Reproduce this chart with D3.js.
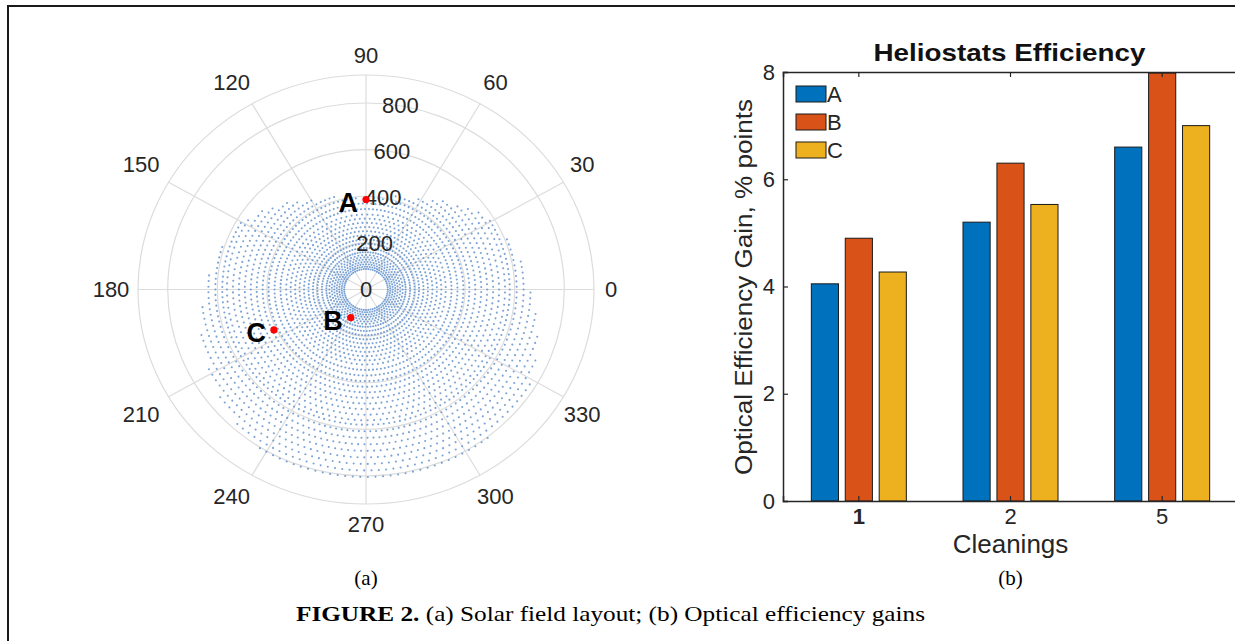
<!DOCTYPE html>
<html>
<head>
<meta charset="utf-8">
<script src="https://cdn.jsdelivr.net/npm/d3@7"></script>
<style>
  body { margin: 0; background: #fff; }
  svg { display: block; font-family: "Liberation Sans", Arial, sans-serif; }
</style>
</head>
<body>
<svg id="fig" width="1235" height="641"></svg>
<script>
// ---- data: (a) solar field layout ----
const thetaTicks = [0, 30, 60, 90, 120, 150, 180, 210, 240, 270, 300, 330];
const rTicks = [0, 200, 400, 600, 800];
const rMax = 920;
// field edge radius (m) read at each 30 deg
const edgeAngles = [0, 30, 60, 90, 120, 150, 180, 210, 240, 270, 300, 330, 360];
const edgeRadii = [665, 590, 445, 385, 445, 580, 650, 730, 810, 830, 815, 775, 665];
// radial stagger zones: first ring, last ring, ring spacing, heliostats per ring
const zoneStart = [88, 160, 345, 580];
const zoneEnd = [150, 335, 565, 840];
const zoneStep = [10, 18, 24, 28];
const zoneCount = [60, 95, 135, 165];
// marked heliostats
const markNames = ['A', 'B', 'C'];
const markTheta = [90, 243, 205];
const markR = [386, 135, 410];

// ---- data: (b) heliostats efficiency ----
const cleanings = ['1', '2', '5'];
const seriesNames = ['A', 'B', 'C'];
const gainA = [4.05, 5.2, 6.6];
const gainB = [4.9, 6.3, 7.98];
const gainC = [4.27, 5.53, 7.0];
const yTicks = [0, 2, 4, 6, 8];
const barColors = ['#0072BD', '#D95319', '#EDB120'];

const svg = d3.select('#fig');
const ink = '#262626';

// frame
svg.append('path')
    .attr('d', 'M8,641 V6 H1235')
    .attr('fill', 'none').attr('stroke', '#1a1a1a').attr('stroke-width', 2);

// ================= (a) polar =================
const cx = 366, cy = 289.5, rx = 228, ry = 214.5;
const px = d3.scaleLinear().domain([-rMax, rMax]).range([cx - rx, cx + rx]);
const py = d3.scaleLinear().domain([-rMax, rMax]).range([cy + ry, cy - ry]);
const rad = d => d * Math.PI / 180;
const polX = (t, r) => px(r * Math.cos(rad(t)));
const polY = (t, r) => py(r * Math.sin(rad(t)));

const polar = svg.append('g');
const gridColor = '#dcdcdc';

// grid circles
rTicks.slice(1).concat([rMax]).forEach(function(r) {
    polar.append('ellipse')
        .attr('cx', cx).attr('cy', cy)
        .attr('rx', px(r) - cx).attr('ry', cy - py(r))
        .attr('fill', 'none').attr('stroke', gridColor).attr('stroke-width', 1.2);
});
// spokes
thetaTicks.forEach(function(t) {
    polar.append('line')
        .attr('x1', cx).attr('y1', cy)
        .attr('x2', polX(t, rMax)).attr('y2', polY(t, rMax))
        .attr('stroke', gridColor).attr('stroke-width', 1.2);
});

// heliostat field
const edgeAt = d3.scaleLinear().domain(edgeAngles).range(edgeRadii);
const field = [];
zoneStart.forEach(function(r0, z) {
    let row = 0;
    for (let r = r0; r <= zoneEnd[z]; r += zoneStep[z], row++) {
        const n = zoneCount[z];
        const off = (row % 2) * 0.5;
        for (let k = 0; k < n; k++) {
            const t = (k + off) * 360 / n;
            if (r <= edgeAt(t)) field.push([t, r]);
        }
    }
});
polar.append('g').selectAll('circle')
    .data(field)
    .join('circle')
    .attr('cx', d => polX(d[0], d[1]))
    .attr('cy', d => polY(d[0], d[1]))
    .attr('r', 1.05)
    .attr('fill', '#5a8cca')
    .attr('fill-opacity', 0.8);

// theta labels, placed just outside the rim
thetaTicks.forEach(function(t) {
    const c = Math.cos(rad(t)), s = Math.sin(rad(t));
    const dir = Math.sign(Math.round(c * 100));
    polar.append('text')
        .attr('x', cx - 5 * Math.abs(c) + c * (rx + 22) + dir * Math.abs(s) * 8)
        .attr('y', cy - s * (ry + 20 + 20 * c * c))
        .attr('text-anchor', 'middle')
        .attr('dominant-baseline', 'central')
        .attr('font-size', 22).attr('fill', ink)
        .text(t);
});
// r labels along 80 deg
rTicks.forEach(function(r) {
    polar.append('text')
        .attr('x', polX(80, r)).attr('y', polY(80, r))
        .attr('text-anchor', 'middle')
        .attr('dominant-baseline', 'central')
        .attr('font-size', 22).attr('fill', ink)
        .text(r);
});

// marked heliostats
markNames.forEach(function(name, i) {
    const x = polX(markTheta[i], markR[i]);
    const y = polY(markTheta[i], markR[i]);
    polar.append('circle')
        .attr('cx', x).attr('cy', y).attr('r', 3.6)
        .attr('fill', '#ff0000');
    polar.append('text')
        .attr('x', x - 8).attr('y', y + 12)
        .attr('text-anchor', 'end')
        .attr('font-size', 27).attr('font-weight', 'bold').attr('fill', '#000')
        .text(name);
});

// ================= (b) bars =================
const axLeft = 783, axRight = 1238, axTop = 72, axBottom = 501;
const x0 = d3.scaleBand().domain(cleanings).range([axLeft, axRight]).padding(0);
const x1 = d3.scaleBand().domain(seriesNames).range([-47.5, 47.5]).paddingInner(0.2);
const y = d3.scaleLinear().domain([0, 8]).range([axBottom, axTop]);

const bars = svg.append('g');
const series = [gainA, gainB, gainC];
cleanings.forEach(function(c, i) {
    const gx = x0(c) + x0.bandwidth() / 2;
    series.forEach(function(vals, j) {
        bars.append('rect')
            .attr('x', gx + x1(seriesNames[j]))
            .attr('y', y(vals[i]))
            .attr('width', x1.bandwidth())
            .attr('height', y(0) - y(vals[i]))
            .attr('fill', barColors[j])
            .attr('stroke', '#1a1a1a').attr('stroke-width', 1);
    });
});

// axes
const yAxis = d3.axisLeft(y).tickValues(yTicks).tickSize(-5).tickPadding(8);
const yg = bars.append('g').attr('transform', `translate(${axLeft},0)`).call(yAxis);
const xAxis = d3.axisBottom(x0).tickSize(-5).tickPadding(7);
const xg = bars.append('g').attr('transform', `translate(0,${axBottom})`).call(xAxis);
const xTop = d3.axisTop(x0).tickSize(-5).tickFormat('');
const xtg = bars.append('g').attr('transform', `translate(0,${axTop})`).call(xTop);
[yg, xg, xtg].forEach(function(g) {
    g.selectAll('.domain').attr('stroke', ink).attr('stroke-width', 1.5);
    g.selectAll('.tick line').attr('stroke', ink).attr('stroke-width', 1.2);
    g.selectAll('text').attr('font-size', 22).attr('fill', ink)
        .attr('font-family', '"Liberation Sans", Arial, sans-serif');
});
xg.selectAll('.tick text').attr('font-weight', (d, i) => i === 0 ? 'bold' : 'normal');

// title and labels
bars.append('text')
    .attr('x', 1009.5).attr('y', 61)
    .attr('text-anchor', 'middle')
    .attr('font-size', 24).attr('font-weight', 'bold').attr('fill', '#111')
    .attr('textLength', 272).attr('lengthAdjust', 'spacingAndGlyphs')
    .text('Heliostats Efficiency');
bars.append('text')
    .attr('transform', `translate(752,287) rotate(-90)`)
    .attr('text-anchor', 'middle')
    .attr('font-size', 23).attr('fill', ink)
    .attr('textLength', 376).attr('lengthAdjust', 'spacingAndGlyphs')
    .text('Optical Efficiency Gain, % points');
bars.append('text')
    .attr('x', x0('2') + x0.bandwidth() / 2).attr('y', 553)
    .attr('text-anchor', 'middle')
    .attr('font-size', 26).attr('fill', ink)
    .text('Cleanings');

// legend
const legend = bars.append('g').attr('transform', 'translate(796,86)');
seriesNames.forEach(function(name, j) {
    const row = legend.append('g').attr('transform', `translate(0,${j * 28})`);
    row.append('rect')
        .attr('width', 30).attr('height', 16)
        .attr('fill', barColors[j])
        .attr('stroke', '#1a1a1a').attr('stroke-width', 1);
    row.append('text')
        .attr('x', 31).attr('y', 16)
        .attr('font-size', 22).attr('fill', ink)
        .text(name);
});

// ================= captions =================
const serif = '"Liberation Serif", "Times New Roman", serif';
svg.append('text').attr('x', cx).attr('y', 585)
    .attr('text-anchor', 'middle').attr('font-family', serif).attr('font-size', 21)
    .text('(a)');
svg.append('text').attr('x', x0('2') + x0.bandwidth() / 2).attr('y', 585)
    .attr('text-anchor', 'middle').attr('font-family', serif).attr('font-size', 21)
    .text('(b)');
const cap = svg.append('text').attr('x', 610.5).attr('y', 621)
    .attr('text-anchor', 'middle').attr('font-family', serif).attr('font-size', 21)
    .attr('textLength', 629).attr('lengthAdjust', 'spacingAndGlyphs');
cap.append('tspan').attr('font-weight', 'bold').text('FIGURE 2.');
cap.append('tspan').text(' (a) Solar field layout; (b) Optical efficiency gains');
</script>
</body>
</html>
